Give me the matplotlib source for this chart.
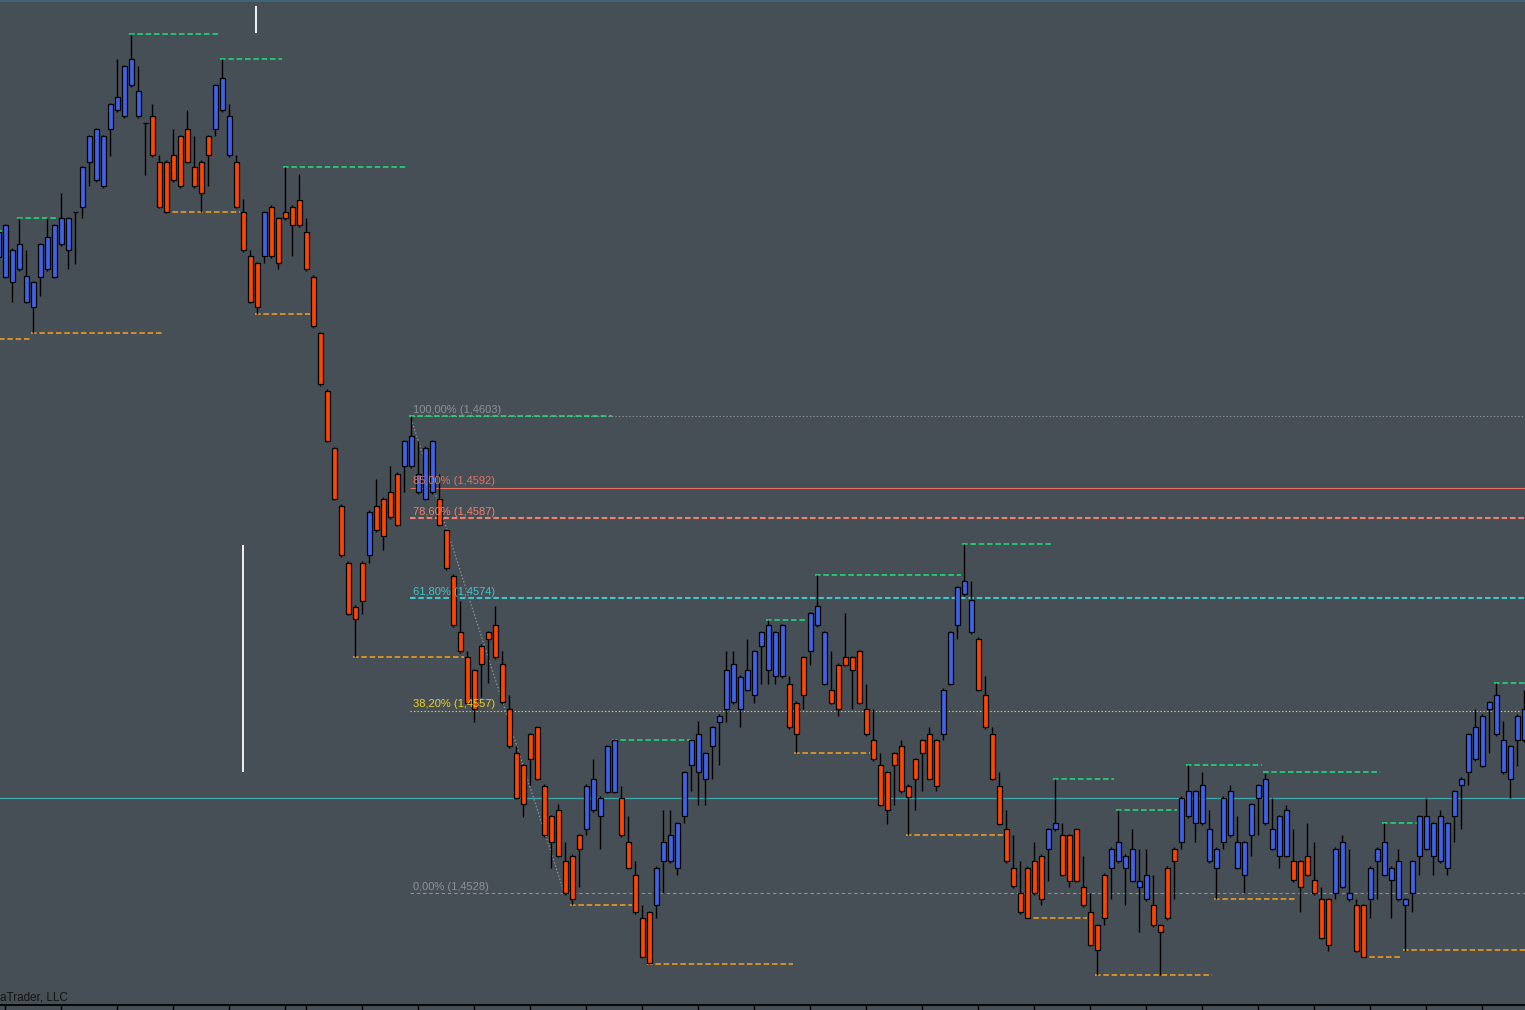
import matplotlib.pyplot as plt
import numpy as np

plt.rcParams['font.family'] = ['Liberation Sans', 'DejaVu Sans']
plt.rcParams['lines.scale_dashes'] = False

# OHLC, one entry per bar (first bar is the partial one at the left edge)
opens = [1.46280, 1.46249, 1.46240, 1.46261, 1.46210, 1.46201, 1.46249, 1.46261, 1.46249, 1.46300,
         1.46291, 1.46350, 1.46359, 1.46430, 1.46401, 1.46391, 1.46481, 1.46511, 1.46501, 1.46550,
         1.46501, 1.46490, 1.46501, 1.46430, 1.46430, 1.46440, 1.46470, 1.46481, 1.46421, 1.46430,
         1.46470, 1.46481, 1.46511, 1.46440, 1.46430, 1.46350, 1.46281, 1.46270, 1.46281, 1.46359,
         1.46341, 1.46350, 1.46359, 1.46370, 1.46320, 1.46249, 1.46160, 1.46070, 1.45979, 1.45889,
         1.45799, 1.45730, 1.45799, 1.45811, 1.45889, 1.45900, 1.45910, 1.45939, 1.45951, 1.45951,
         1.45910, 1.45900, 1.45910, 1.45900, 1.45851, 1.45779, 1.45690, 1.45651, 1.45631, 1.45669,
         1.45690, 1.45701, 1.45640, 1.45570, 1.45500, 1.45481, 1.45530, 1.45541, 1.45449, 1.45401,
         1.45411, 1.45330, 1.45339, 1.45371, 1.45380, 1.45410, 1.45401, 1.45439, 1.45439, 1.45430,
         1.45360, 1.45309, 1.45240, 1.45250, 1.45261, 1.45330, 1.45330, 1.45320, 1.45401, 1.45481,
         1.45470, 1.45460, 1.45511, 1.45549, 1.45570, 1.45580, 1.45570, 1.45600, 1.45591, 1.45669,
         1.45630, 1.45621, 1.45621, 1.45609, 1.45579, 1.45651, 1.45660, 1.45701, 1.45609, 1.45600,
         1.45639, 1.45651, 1.45651, 1.45660, 1.45570, 1.45520, 1.45481, 1.45470, 1.45500, 1.45511,
         1.45449, 1.45490, 1.45520, 1.45530, 1.45520, 1.45530, 1.45609, 1.45701, 1.45750, 1.45690,
         1.45680, 1.45591, 1.45530, 1.45449, 1.45380, 1.45320, 1.45280, 1.45320, 1.45330, 1.45339,
         1.45350, 1.45380, 1.45371, 1.45371, 1.45380, 1.45290, 1.45250, 1.45229, 1.45309, 1.45320,
         1.45330, 1.45320, 1.45299, 1.45290, 1.45270, 1.45261, 1.45229, 1.45320, 1.45350, 1.45360,
         1.45401, 1.45390, 1.45390, 1.45330, 1.45320, 1.45360, 1.45371, 1.45320, 1.45309, 1.45371,
         1.45430, 1.45390, 1.45350, 1.45339, 1.45339, 1.45330, 1.45330, 1.45339, 1.45300, 1.45270,
         1.45270, 1.45280, 1.45290, 1.45270, 1.45261, 1.45261, 1.45270, 1.45330, 1.45309, 1.45300,
         1.45270, 1.45261, 1.45280, 1.45339, 1.45350, 1.45339, 1.45330, 1.45320, 1.45401, 1.45450,
         1.45470, 1.45490, 1.45480, 1.45570, 1.45530, 1.45470, 1.45460, 1.45520, 1.45520]
highs = [1.46321, 1.46332, 1.46294, 1.46341, 1.46291, 1.46242, 1.46302, 1.46341, 1.46332, 1.46381,
         1.46343, 1.46351, 1.46423, 1.46472, 1.46483, 1.46472, 1.46522, 1.46591, 1.46582, 1.46630,
         1.46580, 1.46490, 1.46520, 1.46440, 1.46432, 1.46481, 1.46472, 1.46511, 1.46470, 1.46432,
         1.46472, 1.46552, 1.46591, 1.46520, 1.46440, 1.46371, 1.46291, 1.46272, 1.46352, 1.46362,
         1.46343, 1.46421, 1.46362, 1.46411, 1.46341, 1.46252, 1.46162, 1.46072, 1.45981, 1.45892,
         1.45802, 1.45733, 1.45802, 1.45882, 1.45931, 1.45903, 1.45951, 1.45942, 1.45992, 1.46030,
         1.45991, 1.45983, 1.45992, 1.45939, 1.45852, 1.45782, 1.45739, 1.45660, 1.45632, 1.45671,
         1.45692, 1.45731, 1.45660, 1.45591, 1.45511, 1.45483, 1.45532, 1.45543, 1.45451, 1.45403,
         1.45420, 1.45360, 1.45341, 1.45373, 1.45451, 1.45490, 1.45433, 1.45513, 1.45522, 1.45449,
         1.45401, 1.45330, 1.45261, 1.45252, 1.45322, 1.45411, 1.45410, 1.45392, 1.45472, 1.45522,
         1.45550, 1.45502, 1.45543, 1.45561, 1.45660, 1.45660, 1.45623, 1.45680, 1.45662, 1.45692,
         1.45710, 1.45692, 1.45703, 1.45621, 1.45582, 1.45653, 1.45722, 1.45780, 1.45692, 1.45660,
         1.45642, 1.45720, 1.45653, 1.45662, 1.45609, 1.45570, 1.45500, 1.45472, 1.45502, 1.45520,
         1.45451, 1.45492, 1.45522, 1.45541, 1.45522, 1.45602, 1.45692, 1.45763, 1.45828, 1.45770,
         1.45683, 1.45621, 1.45541, 1.45470, 1.45411, 1.45371, 1.45330, 1.45322, 1.45360, 1.45341,
         1.45382, 1.45460, 1.45390, 1.45373, 1.45382, 1.45339, 1.45280, 1.45231, 1.45311, 1.45352,
         1.45411, 1.45341, 1.45380, 1.45350, 1.45350, 1.45309, 1.45231, 1.45322, 1.45352, 1.45433,
         1.45481, 1.45442, 1.45470, 1.45411, 1.45352, 1.45433, 1.45450, 1.45401, 1.45362, 1.45422,
         1.45451, 1.45468, 1.45430, 1.45403, 1.45419, 1.45380, 1.45332, 1.45390, 1.45360, 1.45290,
         1.45272, 1.45352, 1.45371, 1.45350, 1.45270, 1.45263, 1.45322, 1.45352, 1.45390, 1.45322,
         1.45350, 1.45272, 1.45332, 1.45403, 1.45430, 1.45392, 1.45410, 1.45392, 1.45442, 1.45462,
         1.45532, 1.45570, 1.45561, 1.45582, 1.45610, 1.45550, 1.45513, 1.45561, 1.45600]
lows = [1.46272, 1.46247, 1.46210, 1.46258, 1.46208, 1.46160, 1.46219, 1.46258, 1.46247, 1.46297,
        1.46261, 1.46269, 1.46341, 1.46391, 1.46398, 1.46388, 1.46439, 1.46508, 1.46499, 1.46547,
        1.46499, 1.46409, 1.46437, 1.46357, 1.46349, 1.46398, 1.46388, 1.46428, 1.46388, 1.46350,
        1.46391, 1.46470, 1.46508, 1.46437, 1.46357, 1.46288, 1.46208, 1.46191, 1.46270, 1.46278,
        1.46261, 1.46338, 1.46281, 1.46327, 1.46258, 1.46168, 1.46077, 1.45989, 1.45898, 1.45808,
        1.45717, 1.45651, 1.45719, 1.45799, 1.45848, 1.45819, 1.45868, 1.45857, 1.45910, 1.45948,
        1.45907, 1.45898, 1.45907, 1.45857, 1.45788, 1.45698, 1.45657, 1.45577, 1.45549, 1.45589,
        1.45610, 1.45648, 1.45577, 1.45508, 1.45428, 1.45400, 1.45450, 1.45458, 1.45368, 1.45320,
        1.45337, 1.45277, 1.45261, 1.45290, 1.45371, 1.45407, 1.45350, 1.45437, 1.45437, 1.45368,
        1.45318, 1.45247, 1.45178, 1.45169, 1.45240, 1.45280, 1.45327, 1.45309, 1.45390, 1.45440,
        1.45419, 1.45419, 1.45460, 1.45481, 1.45549, 1.45577, 1.45541, 1.45598, 1.45579, 1.45609,
        1.45609, 1.45609, 1.45618, 1.45538, 1.45500, 1.45570, 1.45639, 1.45698, 1.45607, 1.45577,
        1.45559, 1.45637, 1.45570, 1.45577, 1.45527, 1.45488, 1.45417, 1.45389, 1.45419, 1.45437,
        1.45371, 1.45410, 1.45440, 1.45458, 1.45440, 1.45520, 1.45607, 1.45680, 1.45747, 1.45687,
        1.45598, 1.45538, 1.45458, 1.45387, 1.45327, 1.45288, 1.45247, 1.45240, 1.45277, 1.45261,
        1.45299, 1.45378, 1.45307, 1.45290, 1.45297, 1.45258, 1.45197, 1.45151, 1.45229, 1.45270,
        1.45327, 1.45261, 1.45297, 1.45219, 1.45267, 1.45227, 1.45151, 1.45238, 1.45270, 1.45350,
        1.45398, 1.45360, 1.45387, 1.45327, 1.45270, 1.45350, 1.45368, 1.45318, 1.45280, 1.45339,
        1.45371, 1.45387, 1.45348, 1.45320, 1.45337, 1.45297, 1.45250, 1.45307, 1.45277, 1.45208,
        1.45189, 1.45270, 1.45288, 1.45267, 1.45187, 1.45179, 1.45240, 1.45270, 1.45307, 1.45240,
        1.45267, 1.45189, 1.45250, 1.45309, 1.45348, 1.45309, 1.45327, 1.45309, 1.45360, 1.45380,
        1.45450, 1.45488, 1.45478, 1.45500, 1.45527, 1.45467, 1.45430, 1.45480, 1.45517]
closes = [1.46319, 1.46330, 1.46291, 1.46300, 1.46250, 1.46240, 1.46300, 1.46311, 1.46330, 1.46341,
          1.46341, 1.46350, 1.46421, 1.46470, 1.46481, 1.46470, 1.46520, 1.46531, 1.46580, 1.46591,
          1.46541, 1.46490, 1.46440, 1.46359, 1.46350, 1.46401, 1.46391, 1.46430, 1.46391, 1.46380,
          1.46440, 1.46550, 1.46561, 1.46501, 1.46359, 1.46291, 1.46210, 1.46201, 1.46350, 1.46281,
          1.46270, 1.46341, 1.46330, 1.46330, 1.46261, 1.46171, 1.46080, 1.45991, 1.45900, 1.45811,
          1.45719, 1.45711, 1.45739, 1.45879, 1.45851, 1.45841, 1.45871, 1.45859, 1.45990, 1.45999,
          1.45939, 1.45980, 1.45990, 1.45859, 1.45791, 1.45701, 1.45660, 1.45579, 1.45570, 1.45640,
          1.45680, 1.45651, 1.45580, 1.45511, 1.45430, 1.45420, 1.45490, 1.45460, 1.45371, 1.45360,
          1.45339, 1.45280, 1.45270, 1.45350, 1.45449, 1.45460, 1.45430, 1.45511, 1.45521, 1.45371,
          1.45320, 1.45250, 1.45180, 1.45170, 1.45320, 1.45360, 1.45371, 1.45390, 1.45470, 1.45520,
          1.45530, 1.45500, 1.45541, 1.45559, 1.45630, 1.45640, 1.45620, 1.45630, 1.45660, 1.45690,
          1.45701, 1.45690, 1.45701, 1.45541, 1.45530, 1.45591, 1.45720, 1.45731, 1.45690, 1.45579,
          1.45570, 1.45639, 1.45630, 1.45579, 1.45530, 1.45490, 1.45419, 1.45410, 1.45481, 1.45440,
          1.45431, 1.45460, 1.45500, 1.45460, 1.45449, 1.45600, 1.45690, 1.45761, 1.45770, 1.45740,
          1.45600, 1.45541, 1.45460, 1.45389, 1.45330, 1.45291, 1.45250, 1.45240, 1.45280, 1.45270,
          1.45380, 1.45390, 1.45309, 1.45299, 1.45299, 1.45261, 1.45199, 1.45190, 1.45240, 1.45350,
          1.45360, 1.45339, 1.45350, 1.45299, 1.45309, 1.45229, 1.45219, 1.45240, 1.45330, 1.45430,
          1.45440, 1.45440, 1.45450, 1.45380, 1.45350, 1.45430, 1.45440, 1.45360, 1.45360, 1.45420,
          1.45450, 1.45460, 1.45380, 1.45401, 1.45410, 1.45300, 1.45290, 1.45309, 1.45280, 1.45210,
          1.45199, 1.45350, 1.45360, 1.45280, 1.45189, 1.45180, 1.45320, 1.45350, 1.45360, 1.45320,
          1.45330, 1.45270, 1.45330, 1.45401, 1.45401, 1.45390, 1.45401, 1.45390, 1.45440, 1.45460,
          1.45530, 1.45541, 1.45559, 1.45580, 1.45591, 1.45520, 1.45511, 1.45559, 1.45570]

# swing high / low levels: price, first bar, last bar
res_levels = [1.46321, 1.46341, 1.46630, 1.46591, 1.46421, 1.46030, 1.45520, 1.45710,
              1.45780, 1.45828, 1.45460, 1.45411, 1.45481, 1.45470, 1.45390, 1.45610]
res_start = [-1.5, 2, 18, 31, 40, 58, 87, 109, 116, 137, 150, 159, 169, 180, 197, 213]
res_end = [-0.5, 7.5, 30.5, 39.5, 57.4, 86.7, 98.5, 114.5, 136.5, 149.5, 158.4, 167.4,
           179.5, 196.4, 202.5, 218]
sup_levels = [1.46151, 1.46160, 1.46350, 1.46191, 1.45651, 1.45261, 1.45169,
              1.45500, 1.45371, 1.45240, 1.45151, 1.45270, 1.45180, 1.45190]
sup_start = [-1.5, 4, 23, 36, 50, 81, 92, 113, 129, 146, 156, 173, 194, 200]
sup_end = [3.5, 22.5, 33.5, 43.5, 65.5, 89.5, 112.5, 123.5, 142.5, 154.5, 172.4,
           184.4, 199.4, 218]

# fibonacci retracement
fib_high = 1.4603
fib_low = 1.4528
fib_pcts = [100.0, 85.0, 78.6, 61.8, 38.2, 0.0]
fib_colors = ['#8d9196', '#e8705f', '#f0806e', '#3fc6cc', '#f0d020', '#8d9196']
fib_styles = [(0, (1, 1.5)), '-', (0, (4, 2)), (0, (4, 2)), (0, (1, 1.5)), (0, (2.5, 2))]
fib_widths = [0.8, 0.8, 1.5, 1.5, 0.8, 0.8]
fib_bar0 = 57.85
fib_bar1 = 79.85

ref_level = 1.45430

bars = np.arange(-1, len(opens) - 1)
opens = np.array(opens)
closes = np.array(closes)

bg = '#464f55'
fig = plt.figure(figsize=(15.25, 10.1), dpi=100, facecolor=bg)
ax = fig.add_axes([0, 5 / 1010, 1, 1005 / 1010])
ax.set_facecolor(bg)
ax.set_xlim(-0.757, 217.1)
ax.set_ylim(1.45104, 1.46684)

# fib levels
for pct, col, ls, lw in zip(fib_pcts, fib_colors, fib_styles, fib_widths):
    price = fib_low + pct / 100 * (fib_high - fib_low)
    ax.hlines(price, fib_bar0, 218, colors=col, linestyles=ls, lw=lw, zorder=1)
    label = f"{pct:.2f}%".replace('.', ',') + " (" + f"{price:.4f}".replace('.', ',') + ")"
    ax.annotate(label, (fib_bar0, price), xytext=(2, 1), textcoords='offset points',
                ha='left', va='bottom', fontsize=8, color=col, zorder=6)
ax.plot([fib_bar0, fib_bar1], [fib_high, fib_low], color='#9a9ea2', lw=0.8,
        ls=(0, (1, 1.5)), zorder=2)

ax.axhline(ref_level, color='#3fa9ad', lw=0.9, zorder=1)

for lvl, a, b in zip(res_levels, res_start, res_end):
    ax.hlines(lvl, a - 0.35, b, colors='#19e57a', linestyles=(0, (4, 2)), lw=1.1, zorder=2)
for lvl, a, b in zip(sup_levels, sup_start, sup_end):
    ax.hlines(lvl, a - 0.35, b, colors='#f5a020', linestyles=(0, (4, 2)), lw=1.1, zorder=2)

# measuring marks
ax.vlines([35.86, 33.96], [1.46632, 1.45470], [1.46675, 1.45827], colors='white', lw=1.3)

# candles
colors = ['#3d64e6' if c >= o else '#ff4500' for o, c in zip(opens, closes)]
ax.vlines(bars, lows, highs, colors='black', lw=1, zorder=3)
ax.bar(bars, closes - opens, bottom=opens, width=0.66, color=colors,
       edgecolor='black', linewidth=0.9, zorder=4)

for s in ['top', 'left', 'right']:
    ax.spines[s].set_visible(False)
ax.spines['bottom'].set_color('black')
ax.spines['bottom'].set_linewidth(1.3)
ax.set_yticks([])
ax.set_xticks([0, 8, 16, 24, 32, 40, 43, 51, 59, 67, 75, 83, 91, 99, 107, 115, 123,
               131, 139, 147, 155, 163, 171, 179, 187, 195, 203, 211])
ax.tick_params(axis='x', direction='out', length=4, width=1, color='black', labelbottom=False)

# thin window border along the top edge
fig.add_artist(plt.Line2D([0, 1], [0.999, 0.999], color='#3b6d78', lw=1.2,
                          transform=fig.transFigure))

fig.text(0.0, 6 / 1010, 'aTrader, LLC', fontsize=8.5, color='#141414', ha='left', va='bottom')

fig.savefig('out.png', dpi=100, facecolor=bg)
